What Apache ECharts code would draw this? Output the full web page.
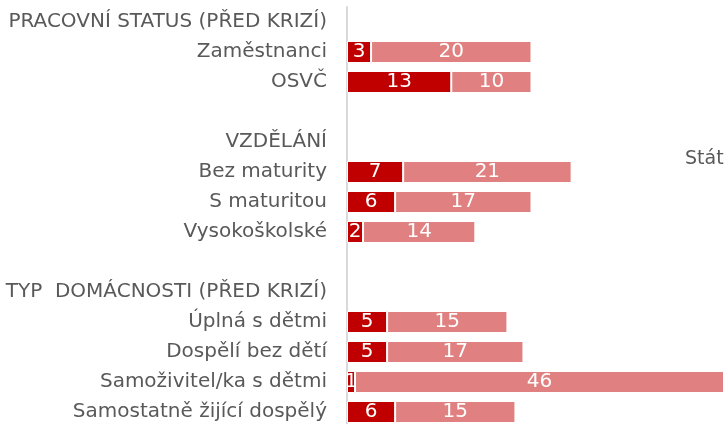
<!DOCTYPE html>
<html>
<head>
<meta charset="utf-8">
<script src="https://cdn.jsdelivr.net/npm/echarts@6/dist/echarts.min.js"></script>
<style>
  html, body { margin: 0; padding: 0; background: #fff; }
  #chart { width: 724px; height: 424px; }
</style>
</head>
<body>
<div id="chart"></div>
<script>
const categories = [
    'PRACOVNÍ STATUS (PŘED KRIZÍ)', 'Zaměstnanci', 'OSVČ', '',
    'VZDĚLÁNÍ', 'Bez maturity', 'S maturitou', 'Vysokoškolské', ' ',
    'TYP  DOMÁCNOSTI (PŘED KRIZÍ)', 'Úplná s dětmi', 'Dospělí bez dětí',
    'Samoživitel/ka s dětmi', 'Samostatně žijící dospělý'
];
const darkValues = [null, 3, 13, null, null, 7, 6, 2, null, null, 5, 5, 1, 6];
const lightValues = [null, 20, 10, null, null, 21, 17, 14, null, null, 15, 17, 46, 15];

const chart = echarts.init(document.getElementById('chart'));

const labelStyle = {
    show: true,
    position: 'inside',
    color: '#fff',
    fontSize: 20,
    fontFamily: 'DejaVu Sans',
    fontWeight: 'normal'
};

chart.setOption({
    animation: false,
    grid: {
        left: 347,
        right: 0,
        top: 7,
        bottom: -3,
        outerBoundsMode: 'none'
    },
    xAxis: {
        type: 'value',
        min: 0,
        max: 47,
        show: false
    },
    yAxis: {
        type: 'category',
        inverse: true,
        data: categories,
        axisTick: {show: false},
        axisLine: {
            show: true,
            lineStyle: {color: '#d9d9d9', width: 2}
        },
        axisLabel: {
            color: '#595959',
            fontSize: 20,
            fontFamily: 'DejaVu Sans',
            margin: 20
        }
    },
    graphic: [{
        type: 'text',
        left: 685,
        top: 150,
        style: {
            text: 'Stát',
            fill: '#595959',
            fontSize: 19,
            fontFamily: 'DejaVu Sans'
        }
    }],
    series: [
        {
            name: 'dark',
            type: 'bar',
            stack: 'total',
            data: darkValues,
            barWidth: 22,
            itemStyle: {color: '#c00000', borderColor: '#fff', borderWidth: 1},
            label: labelStyle
        },
        {
            name: 'light',
            type: 'bar',
            stack: 'total',
            data: lightValues,
            barWidth: 22,
            itemStyle: {color: '#e08080', borderColor: '#fff', borderWidth: 1},
            label: labelStyle
        }
    ]
});
</script>
</body>
</html>
